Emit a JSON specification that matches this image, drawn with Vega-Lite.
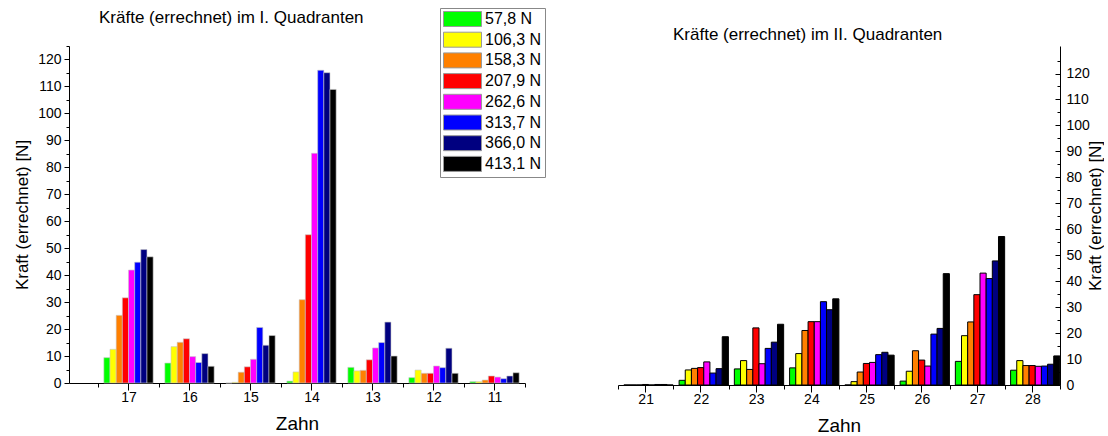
{
 "$schema": "https://vega.github.io/schema/vega-lite/v6.json",
 "background": "white",
 "padding": {"left": 13, "top": 7, "right": 0, "bottom": 0},
 "spacing": 91,
 "config": {
  "font": "Liberation Sans",
  "view": {"stroke": null},
  "axis": {"grid": false, "domainColor": "black", "tickColor": "black", "labelColor": "black", "titleColor": "black", "titleFontWeight": "normal", "labelFontSize": 14, "titleFontSize": 19, "labelFont": "Liberation Sans", "titleFont": "Liberation Sans", "labelOverlap": false},
  "title": {"fontSize": 17, "fontWeight": "normal", "color": "black", "font": "Liberation Sans"}
 },
 "datasets": {
  "q1": [
   {"zahn":"17","last":"57,8 N","kraft":9.4},{"zahn":"17","last":"106,3 N","kraft":12.5},{"zahn":"17","last":"158,3 N","kraft":25.1},{"zahn":"17","last":"207,9 N","kraft":31.6},{"zahn":"17","last":"262,6 N","kraft":41.9},{"zahn":"17","last":"313,7 N","kraft":44.8},{"zahn":"17","last":"366,0 N","kraft":49.5},{"zahn":"17","last":"413,1 N","kraft":46.8},
   {"zahn":"16","last":"57,8 N","kraft":7.4},{"zahn":"16","last":"106,3 N","kraft":13.5},{"zahn":"16","last":"158,3 N","kraft":15.1},{"zahn":"16","last":"207,9 N","kraft":16.4},{"zahn":"16","last":"262,6 N","kraft":9.8},{"zahn":"16","last":"313,7 N","kraft":7.6},{"zahn":"16","last":"366,0 N","kraft":10.9},{"zahn":"16","last":"413,1 N","kraft":6.2},
   {"zahn":"15","last":"57,8 N","kraft":0},{"zahn":"15","last":"106,3 N","kraft":0.25},{"zahn":"15","last":"158,3 N","kraft":4.0},{"zahn":"15","last":"207,9 N","kraft":6.0},{"zahn":"15","last":"262,6 N","kraft":8.8},{"zahn":"15","last":"313,7 N","kraft":20.6},{"zahn":"15","last":"366,0 N","kraft":14.0},{"zahn":"15","last":"413,1 N","kraft":17.6},
   {"zahn":"14","last":"57,8 N","kraft":0.7},{"zahn":"14","last":"106,3 N","kraft":4.1},{"zahn":"14","last":"158,3 N","kraft":30.9},{"zahn":"14","last":"207,9 N","kraft":55.0},{"zahn":"14","last":"262,6 N","kraft":85.2},{"zahn":"14","last":"313,7 N","kraft":116.0},{"zahn":"14","last":"366,0 N","kraft":115.1},{"zahn":"14","last":"413,1 N","kraft":108.9},
   {"zahn":"13","last":"57,8 N","kraft":5.8},{"zahn":"13","last":"106,3 N","kraft":4.5},{"zahn":"13","last":"158,3 N","kraft":4.7},{"zahn":"13","last":"207,9 N","kraft":8.6},{"zahn":"13","last":"262,6 N","kraft":13.0},{"zahn":"13","last":"313,7 N","kraft":15.0},{"zahn":"13","last":"366,0 N","kraft":22.6},{"zahn":"13","last":"413,1 N","kraft":10.0},
   {"zahn":"12","last":"57,8 N","kraft":2.0},{"zahn":"12","last":"106,3 N","kraft":4.8},{"zahn":"12","last":"158,3 N","kraft":3.6},{"zahn":"12","last":"207,9 N","kraft":3.6},{"zahn":"12","last":"262,6 N","kraft":6.3},{"zahn":"12","last":"313,7 N","kraft":5.7},{"zahn":"12","last":"366,0 N","kraft":12.9},{"zahn":"12","last":"413,1 N","kraft":3.6},
   {"zahn":"11","last":"57,8 N","kraft":0.5},{"zahn":"11","last":"106,3 N","kraft":0.5},{"zahn":"11","last":"158,3 N","kraft":1.1},{"zahn":"11","last":"207,9 N","kraft":2.6},{"zahn":"11","last":"262,6 N","kraft":2.2},{"zahn":"11","last":"313,7 N","kraft":1.6},{"zahn":"11","last":"366,0 N","kraft":2.6},{"zahn":"11","last":"413,1 N","kraft":3.8}
  ],
  "q2": [
   {"zahn":"21","last":"57,8 N","kraft":0},{"zahn":"21","last":"106,3 N","kraft":0},{"zahn":"21","last":"158,3 N","kraft":0},{"zahn":"21","last":"207,9 N","kraft":0.2},{"zahn":"21","last":"262,6 N","kraft":0},{"zahn":"21","last":"313,7 N","kraft":0.2},{"zahn":"21","last":"366,0 N","kraft":0.2},{"zahn":"21","last":"413,1 N","kraft":0},
   {"zahn":"22","last":"57,8 N","kraft":1.8},{"zahn":"22","last":"106,3 N","kraft":5.8},{"zahn":"22","last":"158,3 N","kraft":6.4},{"zahn":"22","last":"207,9 N","kraft":6.7},{"zahn":"22","last":"262,6 N","kraft":8.9},{"zahn":"22","last":"313,7 N","kraft":4.6},{"zahn":"22","last":"366,0 N","kraft":6.3},{"zahn":"22","last":"413,1 N","kraft":18.6},
   {"zahn":"23","last":"57,8 N","kraft":6.2},{"zahn":"23","last":"106,3 N","kraft":9.4},{"zahn":"23","last":"158,3 N","kraft":6.0},{"zahn":"23","last":"207,9 N","kraft":22.0},{"zahn":"23","last":"262,6 N","kraft":8.2},{"zahn":"23","last":"313,7 N","kraft":14.1},{"zahn":"23","last":"366,0 N","kraft":16.5},{"zahn":"23","last":"413,1 N","kraft":23.4},
   {"zahn":"24","last":"57,8 N","kraft":6.6},{"zahn":"24","last":"106,3 N","kraft":12.1},{"zahn":"24","last":"158,3 N","kraft":21.0},{"zahn":"24","last":"207,9 N","kraft":24.4},{"zahn":"24","last":"262,6 N","kraft":24.4},{"zahn":"24","last":"313,7 N","kraft":32.1},{"zahn":"24","last":"366,0 N","kraft":29.0},{"zahn":"24","last":"413,1 N","kraft":33.2},
   {"zahn":"25","last":"57,8 N","kraft":0},{"zahn":"25","last":"106,3 N","kraft":1.3},{"zahn":"25","last":"158,3 N","kraft":5.0},{"zahn":"25","last":"207,9 N","kraft":8.3},{"zahn":"25","last":"262,6 N","kraft":8.7},{"zahn":"25","last":"313,7 N","kraft":11.7},{"zahn":"25","last":"366,0 N","kraft":12.6},{"zahn":"25","last":"413,1 N","kraft":11.5},
   {"zahn":"26","last":"57,8 N","kraft":1.5},{"zahn":"26","last":"106,3 N","kraft":5.3},{"zahn":"26","last":"158,3 N","kraft":13.2},{"zahn":"26","last":"207,9 N","kraft":9.6},{"zahn":"26","last":"262,6 N","kraft":7.3},{"zahn":"26","last":"313,7 N","kraft":19.6},{"zahn":"26","last":"366,0 N","kraft":21.8},{"zahn":"26","last":"413,1 N","kraft":42.9},
   {"zahn":"27","last":"57,8 N","kraft":9.1},{"zahn":"27","last":"106,3 N","kraft":19.0},{"zahn":"27","last":"158,3 N","kraft":24.3},{"zahn":"27","last":"207,9 N","kraft":34.8},{"zahn":"27","last":"262,6 N","kraft":43.1},{"zahn":"27","last":"313,7 N","kraft":41.0},{"zahn":"27","last":"366,0 N","kraft":47.8},{"zahn":"27","last":"413,1 N","kraft":57.2},
   {"zahn":"28","last":"57,8 N","kraft":5.7},{"zahn":"28","last":"106,3 N","kraft":9.4},{"zahn":"28","last":"158,3 N","kraft":7.5},{"zahn":"28","last":"207,9 N","kraft":7.5},{"zahn":"28","last":"262,6 N","kraft":7.2},{"zahn":"28","last":"313,7 N","kraft":7.3},{"zahn":"28","last":"366,0 N","kraft":8.0},{"zahn":"28","last":"413,1 N","kraft":11.2}
  ]
 },
 "hconcat": [
  {
   "width": 456,
   "height": 337,
   "title": {"text": "Kräfte (errechnet) im I. Quadranten", "anchor": "start", "frame": "group", "dx": 30, "offset": 12},
   "data": {"name": "q1"},
   "resolve": {"axis": {"x": "independent"}},
   "layer": [
    {
     "mark": {"type": "bar", "stroke": "#c8c8c8", "strokeWidth": 0.6},
     "encoding": {
      "x": {"field": "zahn", "type": "nominal", "sort": ["17","16","15","14","13","12","11"],
            "scale": {"paddingInner": 0, "paddingOuter": 0.2377, "align": 1},
            "axis": {"orient": "bottom", "title": "Zahn", "labelAngle": 0, "tickBand": "extent", "tickSize": 4, "labelPadding": 3, "titlePadding": 10}},
      "xOffset": {"field": "last", "type": "nominal", "sort": ["57,8 N","106,3 N","158,3 N","207,9 N","262,6 N","313,7 N","366,0 N","413,1 N"],
                  "scale": {"paddingInner": 0, "paddingOuter": 0.95}},
      "y": {"field": "kraft", "type": "quantitative", "scale": {"domain": [0, 125], "nice": false},
            "axis": {"title": "Kraft (errechnet) [N]", "titleFontSize": 17, "values": [0,5,10,15,20,25,30,35,40,45,50,55,60,65,70,75,80,85,90,95,100,105,110,115,120,125],
                     "labelExpr": "datum.value % 10 === 0 && datum.value <= 120 ? datum.label : ''", "labelOverlap": false,
                     "tickSize": {"condition": {"test": "datum.value % 10 === 0", "value": 5}, "value": 3},
                     "labelPadding": 3, "titlePadding": 6}},
      "color": {"field": "last", "type": "nominal", "sort": ["57,8 N","106,3 N","158,3 N","207,9 N","262,6 N","313,7 N","366,0 N","413,1 N"],
                "scale": {"domain": ["57,8 N","106,3 N","158,3 N","207,9 N","262,6 N","313,7 N","366,0 N","413,1 N"],
                          "range": ["#00ff00","#ffff00","#ff8000","#ff0000","#ff00ff","#0000ff","#000080","#000000"]},
                "legend": {"orient": "none", "legendX": 371, "legendY": -38, "title": null,
                           "symbolType": "M-1,-1H4.067V1H-1Z", "symbolSize": 225, "symbolStrokeColor": "#999", "symbolStrokeWidth": 1,
                           "labelOffset": 26, "labelFontSize": 16, "labelColor": "black", "labelFont": "Liberation Sans", "rowPadding": 0.7,
                           "padding": 3, "strokeColor": "#888", "fillColor": "white", "labelLimit": 200}}
     }
    },
    {
     "mark": {"type": "bar", "opacity": 0},
     "encoding": {
      "x": {"field": "zahn", "type": "nominal", "sort": ["17","16","15","14","13","12","11"],
            "axis": {"orient": "bottom", "title": null, "labels": false, "domain": false, "tickSize": 7}},
      "xOffset": {"field": "last", "type": "nominal", "sort": ["57,8 N","106,3 N","158,3 N","207,9 N","262,6 N","313,7 N","366,0 N","413,1 N"]}
     }
    }
   ]
  },
  {
   "width": 442,
   "height": 339,
   "title": {"text": "Kräfte (errechnet) im II. Quadranten", "anchor": "start", "frame": "group", "dx": 55, "offset": 2},
   "data": {"name": "q2"},
   "resolve": {"axis": {"x": "independent"}},
   "layer": [
    {
     "mark": {"type": "bar", "stroke": "black", "strokeWidth": 1},
     "encoding": {
      "x": {"field": "zahn", "type": "nominal", "sort": ["21","22","23","24","25","26","27","28"],
            "scale": {"paddingInner": 0, "paddingOuter": 0},
            "axis": {"orient": "bottom", "title": "Zahn", "labelAngle": 0, "tickBand": "extent", "tickSize": 4, "labelPadding": 3, "titlePadding": 10}},
      "xOffset": {"field": "last", "type": "nominal", "sort": ["57,8 N","106,3 N","158,3 N","207,9 N","262,6 N","313,7 N","366,0 N","413,1 N"],
                  "scale": {"paddingInner": 0, "paddingOuter": 0.87}},
      "y": {"field": "kraft", "type": "quantitative", "scale": {"domain": [0, 130.6], "nice": false},
            "axis": {"orient": "right", "title": "Kraft (errechnet) [N]", "titleFontSize": 17, "titleAngle": 270, "values": [0,5,10,15,20,25,30,35,40,45,50,55,60,65,70,75,80,85,90,95,100,105,110,115,120,125],
                     "labelExpr": "datum.value % 10 === 0 && datum.value <= 120 ? datum.label : ''", "labelOverlap": false,
                     "tickSize": {"condition": {"test": "datum.value % 10 === 0", "value": -5}, "value": -3},
                     "labelPadding": 11, "titlePadding": 15,
                     "encode": {"domain": {"update": {"y2": {"value": 12}}}}}},
      "color": {"field": "last", "type": "nominal",
                "scale": {"domain": ["57,8 N","106,3 N","158,3 N","207,9 N","262,6 N","313,7 N","366,0 N","413,1 N"],
                          "range": ["#00ff00","#ffff00","#ff8000","#ff0000","#ff00ff","#0000ff","#000080","#000000"]},
                "legend": null}
     }
    },
    {
     "mark": {"type": "bar", "opacity": 0},
     "encoding": {
      "x": {"field": "zahn", "type": "nominal", "sort": ["21","22","23","24","25","26","27","28"],
            "axis": {"orient": "bottom", "title": null, "labels": false, "domain": false, "tickSize": 7}},
      "xOffset": {"field": "last", "type": "nominal", "sort": ["57,8 N","106,3 N","158,3 N","207,9 N","262,6 N","313,7 N","366,0 N","413,1 N"]}
     }
    }
   ]
  }
 ]
}
